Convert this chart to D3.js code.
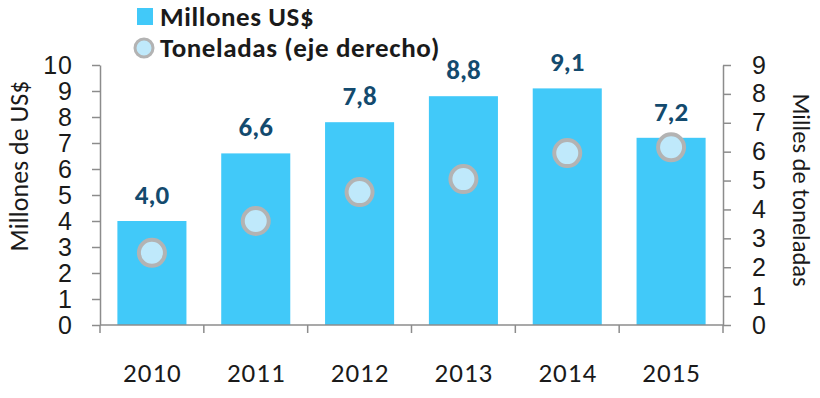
<!DOCTYPE html>
<html>
<head>
<meta charset="utf-8">
<script src="https://cdn.jsdelivr.net/npm/d3@7"></script>
<style>
    body { margin: 0; background: #fff; }
    svg { display: block; font-family: Carlito, Lato, sans-serif; }
</style>
</head>
<body>
<svg width="820" height="398"></svg>
<script>
var years = ['2010', '2011', '2012', '2013', '2014', '2015']
var millones = [4.0, 6.6, 7.8, 8.8, 9.1, 7.2]
var toneladas = [2.5, 3.6, 4.6, 5.05, 5.95, 6.15]
var leftTicks = [0, 1, 2, 3, 4, 5, 6, 7, 8, 9, 10]
var rightTicks = [0, 1, 2, 3, 4, 5, 6, 7, 8, 9]

var barColor = '#41c9f9',
    dotFill = '#bfe9fb',
    dotStroke = '#b3b3b3',
    axisColor = '#8c8c8c',
    labelColor = '#134a6e',
    textColor = '#1a1a1a'

var svg = d3.select('svg')

var x = d3.scaleBand()
    .domain(years)
    .range([100, 723])
    .paddingInner(0.335)
    .paddingOuter(0.1675)

var yL = d3.scaleLinear().domain([0, 10]).range([325, 65])
var yR = d3.scaleLinear().domain([0, 9]).range([325, 65])

var data = years.map((d, i) => ({ year: d, m: millones[i], t: toneladas[i] }))

// bars
svg.append('g')
    .selectAll('rect')
    .data(data)
    .join('rect')
    .attr('x', d => x(d.year))
    .attr('y', d => yL(d.m))
    .attr('width', x.bandwidth())
    .attr('height', d => yL(0) - yL(d.m))
    .style('fill', barColor)

// value labels
svg.append('g')
    .selectAll('text')
    .data(data)
    .join('text')
    .attr('x', d => x(d.year) + x.bandwidth() / 2)
    .attr('y', d => yL(d.m) - 17)
    .attr('text-anchor', 'middle')
    .style('font-size', '27px')
    .style('font-weight', 'bold')
    .style('fill', labelColor)
    .text(d => d3.format('.1f')(d.m).replace('.', ','))

// tonnes dots
svg.append('g')
    .selectAll('circle')
    .data(data)
    .join('circle')
    .attr('cx', d => x(d.year) + x.bandwidth() / 2)
    .attr('cy', d => yR(d.t))
    .attr('r', 13)
    .style('fill', dotFill)
    .style('stroke', dotStroke)
    .style('stroke-width', 4)

// axes
function styleAxis(g) {
    g.select('.domain').style('stroke', axisColor).style('stroke-width', 1.5)
    g.selectAll('.tick line').style('stroke', axisColor).style('stroke-width', 1.5)
    g.selectAll('.tick text')
        .style('fill', textColor)
        .style('font-size', '25px')
        .style('letter-spacing', '1px')
}

svg.append('g')
    .attr('transform', 'translate(100,0)')
    .call(d3.axisLeft(yL).tickValues(leftTicks).tickSize(8).tickPadding(19).tickSizeOuter(0))
    .call(styleAxis)

svg.append('g')
    .attr('transform', 'translate(723,0)')
    .call(d3.axisRight(yR).tickValues(rightTicks).tickSize(8).tickPadding(21).tickSizeOuter(0))
    .call(styleAxis)

// x axis: line, ticks at category edges, labels under bars
var edges = years.map(d => x(d) - (x.step() - x.bandwidth()) / 2)
edges.push(edges[edges.length - 1] + x.step())

var xg = svg.append('g')
xg.append('line')
    .attr('x1', x.range()[0]).attr('x2', x.range()[1])
    .attr('y1', yL(0)).attr('y2', yL(0))
    .style('stroke', axisColor).style('stroke-width', 1.5)
xg.selectAll('.edge')
    .data(edges)
    .join('line')
    .attr('class', 'edge')
    .attr('x1', d => d).attr('x2', d => d)
    .attr('y1', yL(0)).attr('y2', yL(0) + 8)
    .style('stroke', axisColor).style('stroke-width', 1.5)
xg.selectAll('text')
    .data(years)
    .join('text')
    .attr('x', d => x(d) + x.bandwidth() / 2 + 0.5)
    .attr('y', 382)
    .attr('text-anchor', 'middle')
    .style('font-size', '27px')
    .style('letter-spacing', '1px')
    .style('fill', textColor)
    .text(d => d)

// axis titles
svg.append('text')
    .attr('transform', 'translate(28,166) rotate(-90)')
    .attr('text-anchor', 'middle')
    .style('font-size', '26px')
    .style('fill', textColor)
    .text('Millones de US$')

svg.append('text')
    .attr('transform', 'translate(793,190) rotate(90)')
    .attr('text-anchor', 'middle')
    .style('font-size', '24.5px')
    .style('fill', textColor)
    .text('Milles de toneladas')

// legend
var legend = svg.append('g')
legend.append('rect')
    .attr('x', 137).attr('y', 8)
    .attr('width', 16).attr('height', 17)
    .style('fill', barColor)
legend.append('text')
    .attr('x', 160).attr('y', 26)
    .style('font-size', '27px').style('font-weight', 'bold')
    .style('letter-spacing', '0.6px').style('fill', textColor)
    .text('Millones US$')
legend.append('circle')
    .attr('cx', 144).attr('cy', 48).attr('r', 9)
    .style('fill', dotFill).style('stroke', dotStroke).style('stroke-width', 3)
legend.append('text')
    .attr('x', 160).attr('y', 57)
    .style('font-size', '27px').style('font-weight', 'bold')
    .style('letter-spacing', '0.6px').style('fill', textColor)
    .text('Toneladas (eje derecho)')
</script>
</body>
</html>
